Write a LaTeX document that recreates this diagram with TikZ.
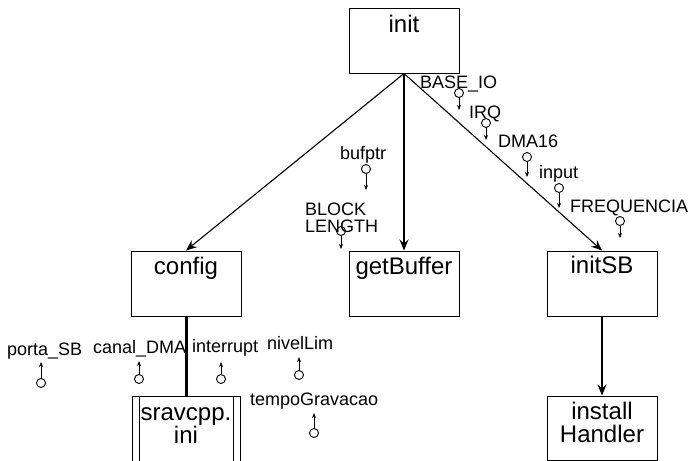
\documentclass[tikz,border=0pt]{standalone}
\usepackage{fontspec}
\setmainfont{Liberation Sans}
\usetikzlibrary{arrows.meta}
\begin{document}
\begin{tikzpicture}[x=1pt,y=-1pt,
  box/.style={draw, line width=1pt, minimum width=110pt, minimum height=65pt, inner sep=0pt},
  boxtext/.style={font=\fontsize{24}{23}\selectfont, align=center, anchor=base, inner sep=0pt},
  param/.style={font=\fontsize{18}{17}\selectfont, anchor=base west, inner sep=0pt, align=left},
  flow/.style={line width=1.1pt, -{Stealth[length=11pt,width=9pt,inset=4pt]}},
  cpl/.style={circle, draw, line width=0.9pt, minimum size=9pt, inner sep=0pt},
  cplarrow/.style={line width=0.9pt, -{Stealth[length=5pt,width=4pt]}}]
\useasboundingbox (0,0) rectangle (689,461);

% modules
\node[box] (init)    at (404,40.5)  {};
\node[box] (config)  at (186,283.5) {};
\node[box] (getbuf)  at (404,283.5) {};
\node[box] (initsb)  at (602,283.5) {};
\node[box, minimum height=64pt] (install) at (602,428) {};
\node[box, minimum width=108pt, minimum height=66pt] (srav) at (186,429) {};
\draw[line width=1pt] ([xshift=8pt]srav.north west) -- ([xshift=8pt]srav.south west)
                      ([xshift=-7pt]srav.north east) -- ([xshift=-7pt]srav.south east);

% module names (base of a two-line name is its last line)
\node[boxtext] (tinit)    at ([yshift=-25pt]init.north)    {init};
\node[boxtext] (tconfig)  at ([yshift=-24pt]config.north)  {config};
\node[boxtext] (tgetbuf)  at ([yshift=-24pt]getbuf.north)  {getBuffer};
\node[boxtext] (tinitsb)  at ([yshift=-23pt]initsb.north)  {initSB};
\node[boxtext] (tinstall) at ([yshift=-47pt]install.north) {install\\Handler};
\node[boxtext] (tsrav)    at ([yshift=-48pt]srav.north)    {sravcpp.\\ini};

% calls
\draw[flow] (init.south) -- (config.north);
\draw[flow] (init.south) -- (getbuf.north);
\draw[flow] (init.south) -- (initsb.north);
\draw[flow] (initsb.south) -- (install.north);
\draw[line width=3pt] (config.south) -- (srav.north);

% data couples flowing downward
\foreach \n/\x/\y/\e in {base/459/93/110, irq/486/123/140, dma/527/157/177,
    inp/559/188/208, freq/620/221/238, buf/366/169/190, blk/341/231/249}{
  \node[cpl] (\n) at (\x,\y) {};
  \coordinate (\n e) at (\x,\e);
  \draw[cplarrow] (\n) -- (\n e);
}
% data couples flowing upward
\foreach \n/\x/\y/\e in {porta/41/383/362, canal/139/379/361, intr/221/379/362,
    nivel/299/375/357, tempo/314/433/413}{
  \node[cpl] (\n) at (\x,\y) {};
  \coordinate (\n e) at (\x,\e);
  \draw[cplarrow] (\n) -- (\n e);
}

% couple names
\node[param] (lbase)  at (420,88)  {BASE\_IO};
\node[param] (lirq)   at (469,118) {IRQ};
\node[param] (ldma)   at (498,147) {DMA16};
\node[param] (linp)   at (539,178) {input};
\node[param] (lfreq)  at (570,212) {FREQUENCIA};
\node[param] (lbuf)   at (340,159) {bufptr};
\node[param] (lblk)   at (305,232) {BLOCK\\LENGTH};
\node[param] (lporta) at (7,355)   {porta\_SB};
\node[param] (lcanal) at (93,353)  {canal\_DMA};
\node[param] (lintr)  at (192,352) {interrupt};
\node[param] (lnivel) at (267,349) {nivelLim};
\node[param] (ltempo) at (250,405) {tempoGravacao};
\end{tikzpicture}
\end{document}
